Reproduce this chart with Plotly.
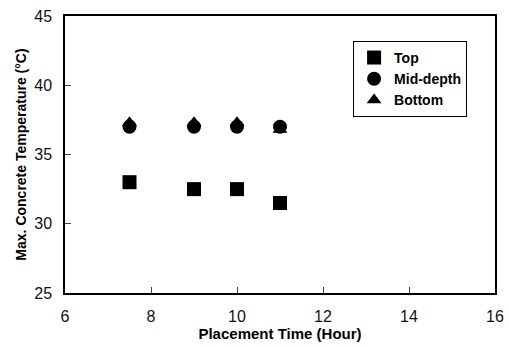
import plotly.graph_objects as go

placement_time = [7.5, 9, 10, 11]
top_temp = [33.0, 32.5, 32.5, 31.5]
mid_temp = [37.0, 37.0, 37.0, 37.0]
bottom_temp = [37.3, 37.3, 37.3, 36.8]

x_ticks = [6, 8, 10, 12, 14, 16]
y_ticks = [25, 30, 35, 40, 45]

font_family = "Liberation Sans, Arial, sans-serif"

fig = go.Figure()
fig.add_trace(go.Scatter(x=placement_time, y=bottom_temp, mode="markers", name="Bottom",
                         marker=dict(symbol="triangle-up", size=13, color="black")))
fig.add_trace(go.Scatter(x=placement_time, y=mid_temp, mode="markers", name="Mid-depth",
                         marker=dict(symbol="circle", size=14, color="black")))
fig.add_trace(go.Scatter(x=placement_time, y=top_temp, mode="markers", name="Top",
                         marker=dict(symbol="square", size=14, color="black")))

fig.update_layout(
    width=511, height=346,
    margin=dict(l=65, r=7, t=16, b=53),
    paper_bgcolor="white", plot_bgcolor="white",
    font=dict(family=font_family, color="#111", size=15),
    showlegend=True,
    legend=dict(x=0.67, y=0.91, xanchor="left", yanchor="top",
                bordercolor="black", borderwidth=1, bgcolor="white",
                font=dict(size=14, weight="bold", color="black"),
                tracegroupgap=0, itemwidth=30, traceorder="reversed"),
    xaxis=dict(range=[6, 16], tickvals=x_ticks, ticks="inside", ticklen=6,
               showline=True, linecolor="black", linewidth=1.5, mirror=True,
               showgrid=False, zeroline=False, ticklabelstandoff=8,
               tickfont=dict(size=16),
               title=dict(text="Placement Time (Hour)", standoff=4,
                          font=dict(size=15, weight="bold", color="black"))),
    yaxis=dict(range=[25, 45], tickvals=y_ticks, ticks="inside", ticklen=6,
               showline=True, linecolor="black", linewidth=1.5, mirror=True,
               showgrid=False, zeroline=False, ticklabelstandoff=8,
               tickfont=dict(size=16),
               title=dict(text="Max. Concrete Temperature (°C)", standoff=4,
                          font=dict(size=14, weight="bold", color="black"))),
)

fig.write_html("out.html")
